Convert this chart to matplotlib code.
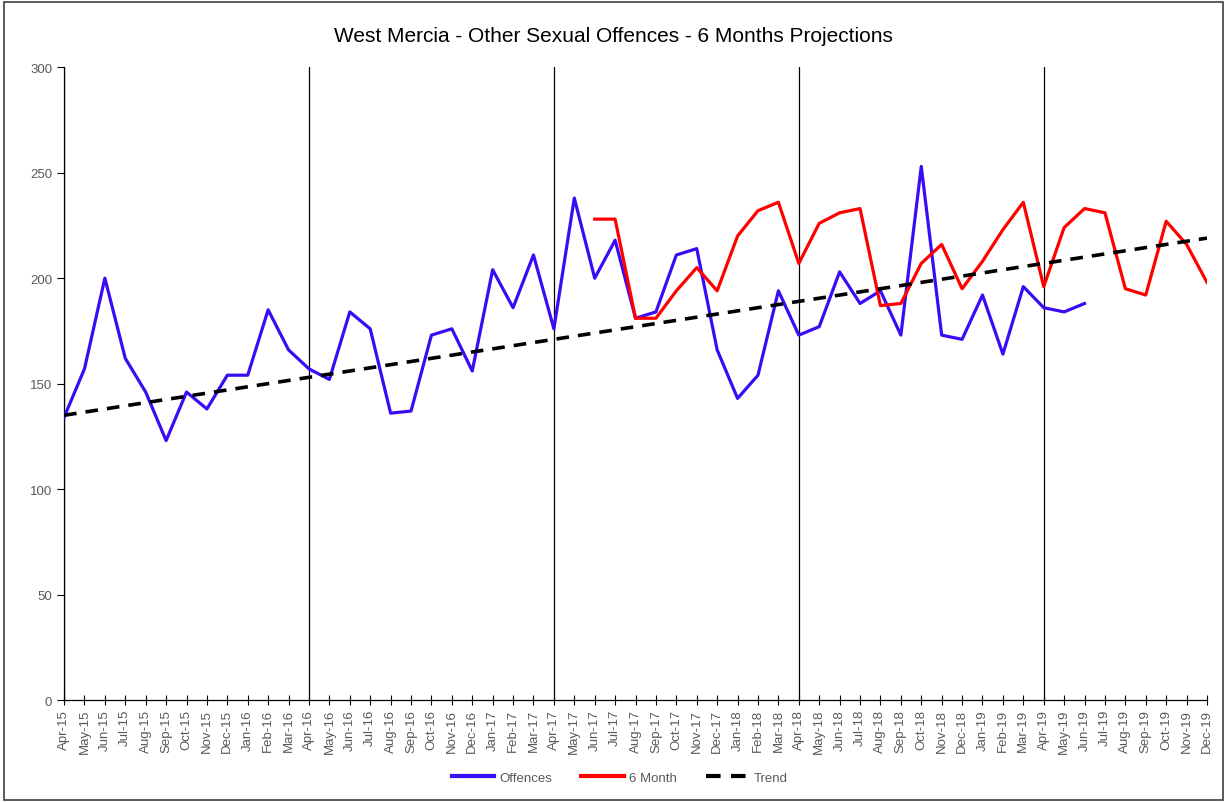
import matplotlib
matplotlib.use("Agg")
import matplotlib.pyplot as plt
from matplotlib.patches import Rectangle
import numpy as np

plt.rcParams['font.family'] = ['Liberation Sans', 'DejaVu Sans']

months = ['Apr-15', 'May-15', 'Jun-15', 'Jul-15', 'Aug-15', 'Sep-15', 'Oct-15', 'Nov-15', 'Dec-15',
          'Jan-16', 'Feb-16', 'Mar-16', 'Apr-16', 'May-16', 'Jun-16', 'Jul-16', 'Aug-16', 'Sep-16',
          'Oct-16', 'Nov-16', 'Dec-16', 'Jan-17', 'Feb-17', 'Mar-17', 'Apr-17', 'May-17', 'Jun-17',
          'Jul-17', 'Aug-17', 'Sep-17', 'Oct-17', 'Nov-17', 'Dec-17', 'Jan-18', 'Feb-18', 'Mar-18',
          'Apr-18', 'May-18', 'Jun-18', 'Jul-18', 'Aug-18', 'Sep-18', 'Oct-18', 'Nov-18', 'Dec-18',
          'Jan-19', 'Feb-19', 'Mar-19', 'Apr-19', 'May-19', 'Jun-19', 'Jul-19', 'Aug-19', 'Sep-19',
          'Oct-19', 'Nov-19', 'Dec-19']

offences = [134, 157, 200, 162, 146, 123, 146, 138, 154, 154, 185, 166,
            157, 152, 184, 176, 136, 137, 173, 176, 156, 204, 186, 211,
            176, 238, 200, 218, 181, 184, 211, 214, 166, 143, 154, 194,
            173, 177, 203, 188, 194, 173, 253, 173, 171, 192, 164, 196,
            186, 184, 188]

# 6 month projection starts at Jun-17
six_month_start = 'Jun-17'
six_month = [228, 228, 181, 181, 194, 205, 194, 220, 232, 236,
             207, 226, 231, 233, 187, 188, 207, 216, 195, 208, 223, 236,
             196, 224, 233, 231, 195, 192, 227, 216, 198]

# trend line end points (Apr-15 .. Dec-19)
trend_ends = [135, 219]

year_starts = ['Apr-15', 'Apr-16', 'Apr-17', 'Apr-18', 'Apr-19']

x = np.arange(len(months))
s0 = months.index(six_month_start)

fig = plt.figure(figsize=(12.27, 8.03), dpi=100)
ax = fig.add_axes([0.0522, 0.127, 0.9315, 0.788])

for m in year_starts:
    ax.axvline(months.index(m), color='black', lw=0.9, zorder=1)

ax.plot(x[:len(offences)], offences, color='#3a0cf5', lw=2.3, label='Offences', zorder=3)
ax.plot(x[s0:s0 + len(six_month)], six_month, color='#ff0000', lw=2.3, label='6 Month', zorder=3)
ax.plot([x[0], x[-1]], trend_ends, color='black', lw=2.6, ls=(0, (3.5, 2.5)), label='Trend', zorder=4)

ax.set_xlim(0, len(months) - 1)
ax.set_ylim(0, 300)
ax.set_yticks(range(0, 301, 50))
ax.set_xticks(x)
ax.set_xticklabels(months, rotation=90, fontsize=9.5, color='#595959')
ax.tick_params(axis='y', labelsize=9.5, colors='#595959', direction='out', length=5, width=0.8, color='black')
ax.tick_params(axis='x', direction='inout', length=7, width=0.8, color='black', pad=3)
for sp in ['top', 'right']:
    ax.spines[sp].set_visible(False)
ax.spines['left'].set_linewidth(0.9)
ax.spines['bottom'].set_linewidth(0.9)

fig.text(0.5, 0.954, 'West Mercia - Other Sexual Offences - 6 Months Projections',
         ha='center', va='center', fontsize=15, color='black')

leg = fig.legend(loc='center', bbox_to_anchor=(0.505, 0.030), ncol=3, frameon=False,
                 fontsize=9.5, handlelength=3.2, columnspacing=2.2, handletextpad=0.4)
for t in leg.get_texts():
    t.set_color('#595959')
for h in leg.legend_handles:
    h.set_linewidth(3)

fig.patches.append(Rectangle((0.003, 0.002), 0.994, 0.994, transform=fig.transFigure,
                             fill=False, edgecolor='#404040', lw=1.2))

fig.savefig('out.png', dpi=100)
